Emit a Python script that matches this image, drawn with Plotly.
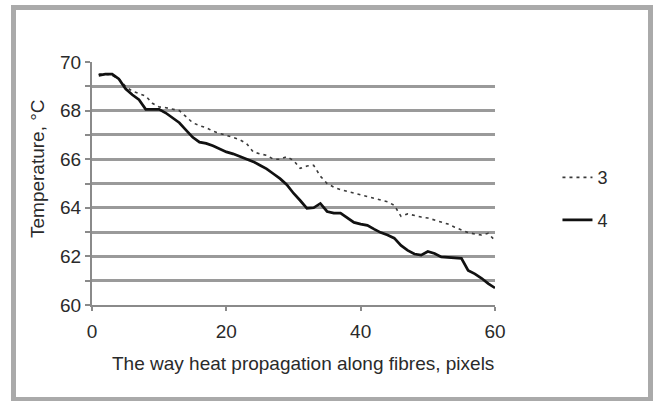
import plotly.graph_objects as go

# Data
x_pixels = list(range(1, 61))

series3_temp = [69.5, 69.5, 69.45, 69.3, 69.0, 68.8, 68.7, 68.6, 68.3, 68.15,
                68.12, 68.05, 68.0, 67.75, 67.5, 67.38, 67.3, 67.15, 67.05, 66.98,
                66.9, 66.8, 66.65, 66.3, 66.22, 66.16, 66.0, 66.0, 66.1, 65.95,
                65.62, 65.72, 65.75, 65.3, 65.0, 64.85, 64.75, 64.68, 64.6, 64.55,
                64.47, 64.4, 64.33, 64.25, 64.1, 63.65, 63.75, 63.68, 63.62, 63.58,
                63.5, 63.42, 63.33, 63.2, 63.1, 62.98, 62.92, 62.88, 62.95, 62.65]

series4_temp = [69.45, 69.5, 69.5, 69.3, 68.9, 68.65, 68.45, 68.05, 68.05, 68.05,
                67.9, 67.7, 67.5, 67.2, 66.9, 66.7, 66.65, 66.55, 66.42, 66.3,
                66.22, 66.12, 66.02, 65.9, 65.75, 65.6, 65.4, 65.2, 64.95, 64.6,
                64.3, 63.98, 64.0, 64.18, 63.85, 63.78, 63.78, 63.6, 63.4, 63.33,
                63.28, 63.12, 62.98, 62.88, 62.75, 62.45, 62.25, 62.1, 62.05, 62.2,
                62.12, 61.98, 61.95, 61.93, 61.92, 61.42, 61.28, 61.1, 60.88, 60.7]

series_names = ["3", "4"]
x_ticks = [0, 20, 40, 60]
y_ticks = list(range(60, 71))
y_ticktext = [str(v) if v % 2 == 0 else "" for v in y_ticks]
grid_levels = list(range(61, 70))
x_title = "The way heat propagation along fibres, pixels"
y_title = "Temperature, °C"

FONT = "Liberation Sans, Arial, sans-serif"
TXT = "#2a2a2a"
FS = 19

fig = go.Figure()
fig.add_trace(go.Scatter(
    x=x_pixels, y=series3_temp, name=series_names[0], mode="lines",
    line=dict(color="#3a3a3a", width=1.6, dash="3px,4px"),
    legendgroup="a", yaxis="y"))
fig.add_trace(go.Scatter(
    x=x_pixels, y=series4_temp, name=series_names[1], mode="lines",
    line=dict(color="#111111", width=2.7),
    legendgroup="b", yaxis="y2"))

fig.update_layout(
    width=654, height=401,
    margin=dict(l=92, r=159, t=62, b=96),
    paper_bgcolor="white", plot_bgcolor="white",
    font=dict(family=FONT, size=FS, color=TXT),
    showlegend=True,
    legend=dict(x=1.155, y=0.6, xanchor="left", yanchor="top",
                tracegroupgap=16, font=dict(size=18, color=TXT),
                bgcolor="rgba(0,0,0,0)"),
    xaxis=dict(range=[0, 60], tickvals=x_ticks, showgrid=False, zeroline=False,
               showline=True, linecolor="#8a8a8a", linewidth=2,
               ticks="outside", ticklen=4, tickcolor="#8a8a8a", tickwidth=1.5,
               ticklabelstandoff=4,
               tickfont=dict(size=FS, color=TXT)),
    yaxis=dict(range=[60, 70], tickvals=y_ticks, ticktext=y_ticktext,
               showgrid=False, zeroline=False,
               showline=True, linecolor="#8a8a8a", linewidth=2,
               ticks="outside", ticklen=5, tickcolor="#8a8a8a", tickwidth=1.5,
               tickfont=dict(size=FS, color=TXT)),
    yaxis2=dict(range=[60, 70], overlaying="y", anchor="x", side="left",
                tickvals=grid_levels, showticklabels=False, ticks="",
                showgrid=True, gridcolor="#9a9a9a", gridwidth=2.5,
                showline=False, zeroline=False),
    annotations=[
        dict(text=x_title, xref="paper", yref="paper",
             x=(303 - 92) / 403, y=(305 - 363) / 243,
             xanchor="center", yanchor="middle", showarrow=False,
             font=dict(size=FS, color=TXT)),
        dict(text=y_title, xref="paper", yref="paper",
             x=(37 - 92) / 403, y=(305 - 168) / 243, textangle=-90,
             xanchor="center", yanchor="middle", showarrow=False,
             font=dict(size=FS, color=TXT)),
    ],
    shapes=[dict(type="rect", xref="paper", yref="paper",
                 x0=(13.5 - 92) / 403, x1=(650.5 - 92) / 403,
                 y0=(305 - 399.5) / 243, y1=(305 - 7.5) / 243,
                 line=dict(color="#aaaaaa", width=5), layer="below")],
)

fig.write_html("out.html", config={"displayModeBar": False},
               post_script="document.body.style.margin='0';")
